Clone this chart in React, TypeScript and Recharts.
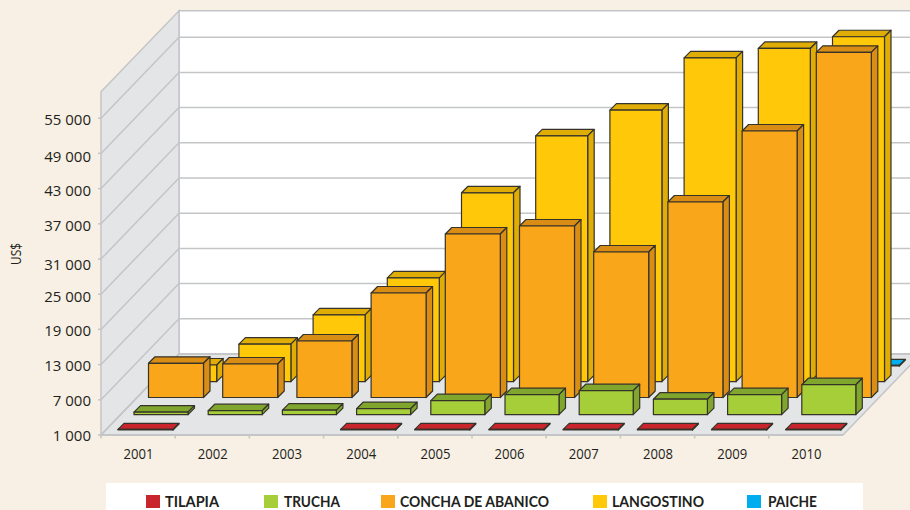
import React from 'react';
import { BarChart, Bar, XAxis, YAxis, CartesianGrid, Legend, Label } from 'recharts';

const years = ['2001', '2002', '2003', '2004', '2005', '2006', '2007', '2008', '2009', '2010'];
const tilapia = [1100, null, null, 1100, 1100, 1100, 1100, 1100, 1100, 1100];
const trucha = [1430, 1680, 1770, 2020, 3390, 4410, 5090, 3640, 4410, 6110];
const concha = [6830, 6710, 10630, 18810, 28870, 30230, 25800, 34320, 46430, 59840];
const langostino = [3850, 7400, 12400, 18700, 33200, 42900, 47300, 56200, 57800, 59800];
const paiche = [null, null, null, null, null, null, null, null, null, 1100];
const yTicks = [1000, 7000, 13000, 19000, 25000, 31000, 37000, 43000, 49000, 55000];
const yLabelNudge = [1, 1, 1.5, 1.5, 2, 6, 1.5, 2, 3, 1.5];
const wallTopValue = 59500;

const rows = years.map((year, i) => ({
  year,
  tilapia: tilapia[i],
  trucha: trucha[i],
  concha: concha[i],
  langostino: langostino[i],
  paiche: paiche[i],
}));

const INK = '#35332a';
const GRID = '#c4c5c7';
const WALL = '#e4e5e7';
const TEXT = '#231f20';
const FONT = '"Open Sans", sans-serif';
const LEGEND_FONT = 'Lato, sans-serif';
const DEPTH_X = 78;
const DEPTH_Y = 81;
const BAND = 74.2;

const series = [
  { key: 'paiche', name: 'PAICHE', fill: '#00aeef', top: '#00aeef', side: '#0090c8', shiftX: 77.5, shiftY: -69, face: 53, depth: 6, axis: 'a4' },
  { key: 'langostino', name: 'LANGOSTINO', fill: '#ffc90a', top: '#dfad06', side: '#dfad06', shiftX: 63.7, shiftY: -53.3, face: 52, depth: 6.5, axis: 'a3' },
  { key: 'concha', name: 'CONCHA DE ABANICO', fill: '#f9a61a', top: '#d98d14', side: '#d98d14', shiftX: 47.5, shiftY: -37.5, face: 55, depth: 6.5, axis: 'a2' },
  { key: 'trucha', name: 'TRUCHA', fill: '#a6ce39', top: '#80a62d', side: '#80a62d', shiftX: 33, shiftY: -20.3, face: 54, depth: 6.5, axis: 'a1' },
  { key: 'tilapia', name: 'TILAPIA', fill: '#c9252c', top: '#c9252c', side: '#a01c22', shiftX: 17, shiftY: -5, face: 55, depth: 6, axis: undefined },
];

const legendLayout: Record<string, { swatch: number; text: number; width: number }> = {
  TILAPIA: { swatch: 40, text: 59, width: 54 },
  TRUCHA: { swatch: 158, text: 178, width: 56 },
  'CONCHA DE ABANICO': { swatch: 275, text: 294, width: 149 },
  LANGOSTINO: { swatch: 487, text: 506, width: 92 },
  PAICHE: { swatch: 641, text: 662, width: 49 },
};

function Box3D(props: any) {
  const { x, y, height, s } = props;
  const left = x + s.shiftX;
  const right = left + s.face;
  const top = y + s.shiftY;
  const bottom = top + height;
  const d = s.depth;
  return (
    <g stroke={INK} strokeWidth={1.2} strokeLinejoin="round">
      <polygon points={`${left},${top} ${left + d},${top - d} ${right + d},${top - d} ${right},${top}`} fill={s.top} />
      <polygon points={`${right},${top} ${right + d},${top - d} ${right + d},${bottom - d} ${right},${bottom}`} fill={s.side} />
      <rect x={left} y={top} width={s.face} height={height} fill={s.fill} />
    </g>
  );
}

function walls(props: any) {
  const { y1, x, y, width, height } = props;
  const bottom = y + height;
  const right = x + width;
  return (
    <g key="walls" stroke={GRID} strokeWidth={1.5}>
      <polygon points={`${x + DEPTH_X},${y1 - DEPTH_Y} ${right + DEPTH_X},${y1 - DEPTH_Y} ${right + DEPTH_X},${bottom - DEPTH_Y} ${x + DEPTH_X},${bottom - DEPTH_Y}`} fill="#ffffff" />
      <polygon points={`${x},${y1} ${x + DEPTH_X},${y1 - DEPTH_Y} ${x + DEPTH_X},${bottom - DEPTH_Y} ${x},${bottom}`} fill={WALL} />
      <polygon points={`${x},${bottom} ${right},${bottom} ${right + DEPTH_X},${bottom - DEPTH_Y} ${x + DEPTH_X},${bottom - DEPTH_Y}`} fill={WALL} />
    </g>
  );
}

function gridLine(props: any) {
  const { y1, x, width, index } = props;
  return (
    <polyline
      key={index}
      points={`${x},${y1} ${x + DEPTH_X},${y1 - DEPTH_Y} ${x + width + DEPTH_X},${y1 - DEPTH_Y}`}
      fill="none"
      stroke={GRID}
      strokeWidth={1.5}
    />
  );
}

function YearTick(props: any) {
  const { x, y, payload } = props;
  return (
    <g>
      <line x1={x - BAND / 2} y1={y - 8} x2={x - BAND / 2} y2={y - 4.5} stroke={GRID} strokeWidth={1.5} />
      <text x={x + 0.5} y={y + 16} textAnchor="middle" fontFamily={FONT} fontSize={15} fill={TEXT} textLength={30} lengthAdjust="spacingAndGlyphs">
        {payload.value}
      </text>
    </g>
  );
}

function ValueTick(props: any) {
  const { x, y, payload } = props;
  const nudge = yLabelNudge[yTicks.indexOf(payload.value)] || 0;
  return (
    <text x={x} y={y + nudge} dy="0.355em" textAnchor="end" fontFamily={FONT} fontSize={15} fill={TEXT}>
      {String(payload.value).replace(/(\d)(\d{3})$/, '$1 $2')}
    </text>
  );
}

function AxisTitle(props: any) {
  const vb = props.viewBox;
  return (
    <text
      transform={`translate(${vb.x + 21},${vb.y + vb.height / 2 - 5}) rotate(-90)`}
      textAnchor="middle"
      fontFamily={FONT}
      fontSize={15}
      fill={TEXT}
      textLength={22}
      lengthAdjust="spacingAndGlyphs"
    >
      US$
    </text>
  );
}

function LegendBox(props: any) {
  const items = [...(props.payload || [])].reverse();
  return (
    <svg width={757} height={27} style={{ display: 'block', background: '#ffffff' }}>
      {items.map((it: any) => {
        const l = legendLayout[it.value];
        return (
          <g key={it.value}>
            <rect x={l.swatch} y={12} width={14} height={13} fill={it.color} />
            <text x={l.text} y={23.7} fontFamily={LEGEND_FONT} fontWeight={700} fontSize={16} fill={TEXT} textLength={l.width} lengthAdjust="spacingAndGlyphs">
              {it.value}
            </text>
          </g>
        );
      })}
    </svg>
  );
}

export default function App() {
  return (
    <div style={{ position: 'absolute', left: 0, top: 0, width: 910, height: 510, background: '#f8f0e4', overflow: 'hidden' }}>
      <BarChart
        width={910}
        height={510}
        data={rows}
        margin={{ top: 83, right: 67, bottom: 0, left: 0 }}
        barCategoryGap={0}
        barGap={0}
      >
        <CartesianGrid vertical={false} horizontalValues={[wallTopValue]} horizontal={walls} />
        <CartesianGrid vertical={false} horizontalValues={yTicks} horizontal={gridLine} />
        <XAxis dataKey="year" height={48} interval={0} tickLine={false} axisLine={{ stroke: GRID, strokeWidth: 2 }} tick={<YearTick />} />
        {series.filter((s) => s.axis).map((s) => (
          <XAxis key={s.axis} xAxisId={s.axis} dataKey="year" hide />
        ))}
        <YAxis
          width={101}
          domain={[1000, 61000]}
          ticks={yTicks}
          interval={0}
          axisLine={false}
          tickSize={3}
          tickMargin={7}
          tickLine={{ stroke: GRID, strokeWidth: 1.5 }}
          tick={<ValueTick />}
        >
          <Label value="US$" content={<AxisTitle />} />
        </YAxis>
        {series.map((s) => (
          <Bar
            key={s.key}
            dataKey={s.key}
            name={s.name}
            fill={s.fill}
            {...(s.axis ? { xAxisId: s.axis } : {})}
            isAnimationActive={false}
            shape={(p: any) => <Box3D {...p} s={s} />}
          />
        ))}
        <Legend
          verticalAlign="bottom"
          content={<LegendBox />}
          wrapperStyle={{ left: 106, width: 757, bottom: 0 }}
        />
      </BarChart>
    </div>
  );
}
